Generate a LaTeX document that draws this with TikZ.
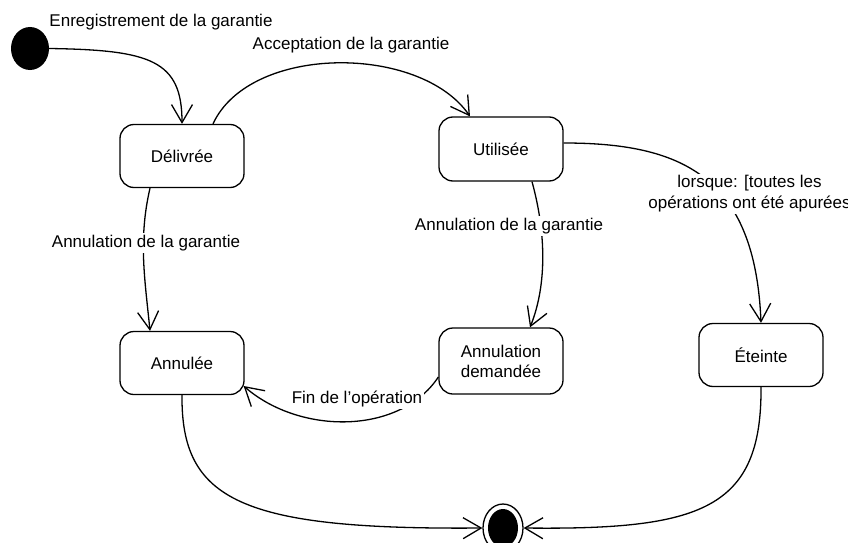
\documentclass[tikz,border=0pt]{standalone}
\usepackage{fontspec}
\setmainfont{Liberation Sans}
\usetikzlibrary{arrows.meta,shapes.geometric}
\begin{document}
\begin{tikzpicture}[x=1pt,y=-1pt,
  state/.style={draw,line width=1.3pt,rounded corners=14pt,minimum width=124pt,minimum height=63pt,align=center,inner sep=0pt,font=\fontsize{17}{20}\selectfont},
  lbl/.style={fill=white,inner sep=2pt,align=center,font=\fontsize{17}{21}\selectfont},
  tr/.style={line width=1.3pt,-{Straight Barb[length=18pt,width=21pt,line width=1.3pt]}},
  ln/.style={line width=1.3pt}]
\useasboundingbox (0,0) rectangle (848,543);
% states
\node[ellipse,fill=black,minimum width=38pt,minimum height=43pt,inner sep=0pt] (I) at (30,48.5) {};
\node[state] (D) at (182,156) {Délivrée};
\node[state,minimum height=64pt] (U) at (501,149) {Utilisée};
\node[state] (A) at (182,363) {Annulée};
\node[state,minimum height=66pt] (AD) at (501,361) {Annulation\\demandée};
\node[state] (E) at (761,355) {Éteinte};
\node[ellipse,draw,line width=1.3pt,minimum width=40pt,minimum height=48pt,inner sep=0pt] (F) at (503,528) {};
\node[ellipse,fill=black,minimum width=30pt,minimum height=38pt,inner sep=0pt] (Fi) at (F.center) {};
% transitions
\draw[tr] (I.east) .. controls (150,50) and (182,60) .. (D.north);
\draw[tr] ([xshift=31pt]D.north) .. controls (250,44) and (420,44) .. ([xshift=-31pt]U.north);
\draw[tr] ([xshift=-32pt]D.south) .. controls (138,240) and (145,280) .. ([xshift=-32pt]A.north);
\draw[tr] ([xshift=31pt]U.south) .. controls (548,240) and (545,290) .. ([xshift=29pt]AD.north);
\draw[tr] ([yshift=6pt]U.east) .. controls (680,143) and (755,175) .. (E.north);
\draw[tr] ([yshift=-16pt]AD.west) .. controls (400,435) and (300,435) .. ([xshift=-1pt,yshift=-23pt]A.east);
\draw[tr] (A.south) .. controls (181,500) and (240,530) .. (F.west);
\draw[tr] (E.south) .. controls (762,510) and (700,530) .. (F.east);
% labels
\node[lbl,fill=none] (l1) at (161,22) {Enregistrement de la garantie};
\node[lbl,fill=none] (l2) at (351,45) {Acceptation de la garantie};
\node[lbl] (l3) at (146,243) {Annulation de la garantie};
\node[lbl] (l4) at (509,226) {Annulation de la garantie};
\node[lbl] (l5) at (749.5,194) {lorsque: [toutes les\\opérations ont été apurées};
\node[lbl] (l6) at (357,399) {Fin de l’opération};
\end{tikzpicture}
\end{document}
